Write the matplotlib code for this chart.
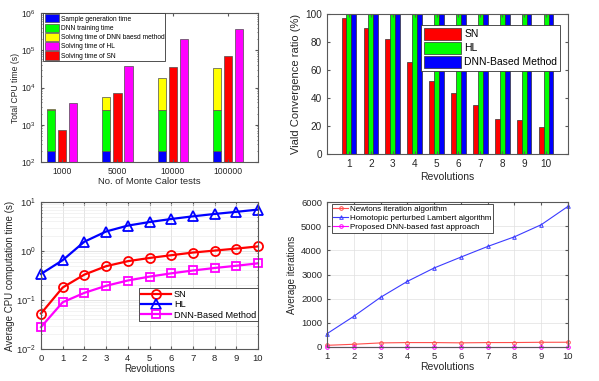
import numpy as np
import matplotlib
matplotlib.use('Agg')
import matplotlib.pyplot as plt

plt.rcParams['font.family'] = ['Liberation Sans', 'DejaVu Sans']
plt.rcParams['mathtext.fontset'] = 'custom'
plt.rcParams['mathtext.rm'] = 'Liberation Sans'
plt.rcParams['mathtext.it'] = 'Liberation Sans'
plt.rcParams['xtick.direction'] = 'in'
plt.rcParams['ytick.direction'] = 'in'
plt.rcParams['axes.edgecolor'] = '0.35'
plt.rcParams['xtick.color'] = '0.35'
plt.rcParams['ytick.color'] = '0.35'
plt.rcParams['xtick.labelcolor'] = '0.15'
plt.rcParams['ytick.labelcolor'] = '0.15'

# ---- panel 1: total CPU time vs number of tests
mcTests = ['1000', '5000', '10000', '100000']
sampleGen = [200, 200, 200, 200]
dnnTrain = [2300, 2300, 2300, 2300]
dnnSolve = [200, 3000, 15500, 30500]
hlSolve = [3800, 38000, 195000, 380000]
snSolve = [700, 7000, 35000, 70000]

# ---- panel 2: valid convergence ratio
revs = [1, 2, 3, 4, 5, 6, 7, 8, 9, 10]
snRatio = [97, 90, 82.5, 66, 52, 43.5, 35, 25, 24.5, 19]
hlRatio = [100, 100, 100, 100, 100, 100, 100, 100, 100, 100]
dnnRatio = [100, 100, 100, 100, 100, 100, 100, 100, 100, 100]

# ---- panel 3: average CPU computation time
revs0 = [0, 1, 2, 3, 4, 5, 6, 7, 8, 9, 10]
snTime = [0.053, 0.18, 0.33, 0.49, 0.62, 0.72, 0.82, 0.93, 1.02, 1.12, 1.24]
hlTime = [0.34, 0.65, 1.55, 2.5, 3.3, 3.9, 4.5, 5.1, 5.7, 6.3, 7.0]
dnnTime = [0.028, 0.09, 0.14, 0.195, 0.25, 0.3, 0.35, 0.4, 0.45, 0.5, 0.56]

# ---- panel 4: average iterations
newtonIter = [70, 113, 169, 183, 183, 172, 183, 185, 195, 197]
hlIter = [550, 1270, 2055, 2715, 3270, 3720, 4160, 4560, 5060, 5820]
dnnIter = [15, 15, 15, 15, 15, 15, 15, 15, 15, 15]

fig = plt.figure(figsize=(5.99, 3.81), dpi=100)

def legendStyle(leg):
    leg.get_frame().set_edgecolor('0.2')
    leg.get_frame().set_linewidth(0.6)

# panel 1
ax1 = fig.add_axes([41/599, 1-162/381, 217/599, 149/381])
x = np.arange(1, len(mcTests)+1)
w = 0.15
off = 0.2
ec = dict(edgecolor='0.3', linewidth=0.5)
bSample = ax1.bar(x-off, sampleGen, w, bottom=1, color='#0000ff', **ec)
b1 = np.array(sampleGen)
bTrain = ax1.bar(x-off, dnnTrain, w, bottom=b1, color='#00ff00', **ec)
b2 = b1 + np.array(dnnTrain)
bDnn = ax1.bar(x-off, dnnSolve, w, bottom=b2, color='#ffff00', **ec)
bSn = ax1.bar(x, snSolve, w, bottom=1, color='#ff0000', **ec)
bHl = ax1.bar(x+off, hlSolve, w, bottom=1, color='#ff00ff', **ec)
ax1.set_yscale('log')
ax1.set_ylim(1e2, 1e6)
ax1.set_xlim(0.62, 4.54)
ax1.set_xticks(x)
ax1.set_xticklabels(mcTests)
ax1.tick_params(labelsize=6.2, length=2, top=True, right=True)
ax1.tick_params(which='minor', length=1, right=True)
ax1.set_xlabel('No. of Monte Calor tests', fontsize=6.8, labelpad=1, color='0.15')
ax1.set_ylabel('Total CPU time (s)', fontsize=6.2, labelpad=1, color='0.15')
leg = ax1.legend([bSample, bTrain, bDnn, bHl, bSn],
                 ['Sample generation time', 'DNN training time',
                  'Solving time of DNN baesd method', 'Solving time of HL',
                  'Solving time of SN'],
                 loc='upper left', bbox_to_anchor=(0.01, 1.0), fontsize=4.8,
                 fancybox=False, framealpha=1, handlelength=2.2, handleheight=1.5,
                 handletextpad=0.2, borderpad=0.2, labelspacing=0.15, borderaxespad=0)
legendStyle(leg)

# panel 2
ax2 = fig.add_axes([327/599, 1-154/381, 241/599, 140/381])
xr = np.array(revs)
bw = 0.22
r1 = ax2.bar(xr-bw, snRatio, bw, color='#ff0000', edgecolor='0.2', linewidth=0.5)
r2 = ax2.bar(xr, hlRatio, bw, color='#00ff00', edgecolor='0.2', linewidth=0.5)
r3 = ax2.bar(xr+bw, dnnRatio, bw, color='#0000ff', edgecolor='0.2', linewidth=0.5)
ax2.set_xlim(0, 11)
ax2.set_ylim(0, 100)
ax2.set_xticks(xr)
ax2.set_yticks([0, 20, 40, 60, 80, 100])
ax2.tick_params(labelsize=7.2, length=2, top=True, right=True)
ax2.set_xlabel('Revolutions', fontsize=7.5, labelpad=2, color='0.15')
ax2.set_ylabel('Viald Convergence ratio (%)', fontsize=8, labelpad=3, color='0.15')
leg = ax2.legend([r1, r2, r3], ['SN', 'HL', 'DNN-Based Method'],
                 loc='upper right', bbox_to_anchor=(0.967, 0.921), fontsize=7.5,
                 fancybox=False, framealpha=1, handlelength=3.6, handleheight=1.4,
                 handletextpad=0.3, borderpad=0.25, labelspacing=0.2, borderaxespad=0)
legendStyle(leg)

# panel 3
ax3 = fig.add_axes([41/599, 1-349/381, 217/599, 147/381])
l1, = ax3.plot(revs0, snTime, '-o', color='#ff0000', lw=1.6, ms=6.5,
               mfc='none', mew=1.3, clip_on=False)
l2, = ax3.plot(revs0, hlTime, '-^', color='#0000ff', lw=1.6, ms=7,
               mfc='none', mew=1.3, clip_on=False)
l3, = ax3.plot(revs0, dnnTime, '-s', color='#ff00ff', lw=1.6, ms=5.5,
               mfc='none', mew=1.3, clip_on=False)
ax3.set_yscale('log')
ax3.set_ylim(1e-2, 1e1)
ax3.set_xlim(0, 10)
ax3.set_xticks(revs0)
ax3.grid(True, which='major', color='0.85', lw=0.5)
ax3.grid(True, which='minor', color='0.92', lw=0.4)
ax3.tick_params(labelsize=6.8, length=2, top=True, right=True)
ax3.tick_params(which='minor', length=1, right=True)
ax3.set_xlabel('Revolutions', fontsize=7, labelpad=1, color='0.15')
ax3.set_ylabel('Average CPU computation time (s)', fontsize=7, labelpad=1, color='0.15')
leg = ax3.legend([l1, l2, l3], ['SN', 'HL', 'DNN-Based Method'],
                 loc='upper right', bbox_to_anchor=(1.0, 0.415), fontsize=6.6,
                 fancybox=False, framealpha=1, handlelength=3.3,
                 handletextpad=0.3, borderpad=0.2, labelspacing=0.15, borderaxespad=0)
legendStyle(leg)

# panel 4
ax4 = fig.add_axes([327/599, 1-347/381, 241/599, 145/381])
k1, = ax4.plot(revs, newtonIter, '-o', color='#ff4d4d', lw=0.8, ms=2.6,
               mfc='none', mew=0.7, clip_on=False)
k2, = ax4.plot(revs, hlIter, '-^', color='#3b3bff', lw=0.8, ms=2.6,
               mfc='none', mew=0.7, clip_on=False)
k3, = ax4.plot(revs, dnnIter, '-o', color='#ff00ff', lw=0.8, ms=2.6,
               mfc='none', mew=0.7, clip_on=False)
ax4.set_xlim(1, 10)
ax4.set_ylim(0, 6000)
ax4.set_xticks(revs)
ax4.set_yticks([0, 1000, 2000, 3000, 4000, 5000, 6000])
ax4.grid(True, color='0.88', lw=0.5)
ax4.tick_params(labelsize=6.8, length=2, top=True, right=True)
ax4.set_xlabel('Revolutions', fontsize=7.5, labelpad=1, color='0.15')
ax4.set_ylabel('Average iterations', fontsize=7, labelpad=3, color='0.15')
leg = ax4.legend([k1, k2, k3], ['Newtons iteration algorithm',
                                'Homotopic perturbed Lambert algorithm',
                                'Proposed DNN-based fast approach'],
                 loc='upper left', bbox_to_anchor=(0.02, 0.986), fontsize=5.8,
                 fancybox=False, framealpha=1, handlelength=1.8,
                 handletextpad=0.3, borderpad=0.2, labelspacing=0.15, borderaxespad=0)
legendStyle(leg)

fig.savefig('out.png', dpi=100)
